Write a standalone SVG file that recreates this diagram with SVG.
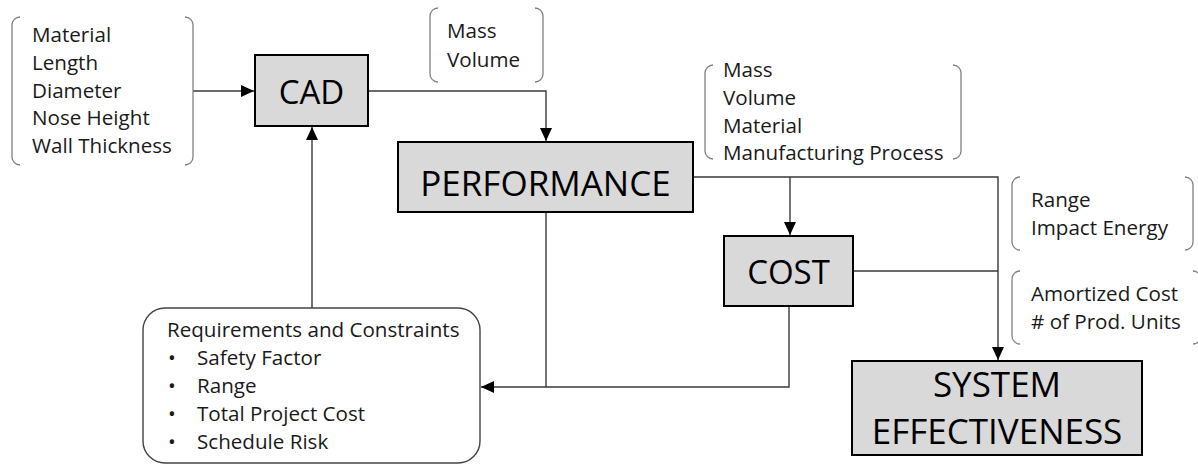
<svg xmlns="http://www.w3.org/2000/svg" width="1198" height="465" viewBox="0 0 1198 465">
<style>
.box{fill:#d9d9d9;stroke:#000;stroke-width:2}
.big{font-family:"Open Sans","Liberation Sans",sans-serif;fill:#000;text-anchor:middle}
.t{font-family:"Open Sans","Liberation Sans",sans-serif;font-size:20.6px;fill:#1a1a1a}
.br{fill:none;stroke:#808080;stroke-width:1.3}
.c{fill:none;stroke:#3a3a3a;stroke-width:1.4}
</style>
<defs>
<marker id="ah" markerUnits="userSpaceOnUse" markerWidth="13" markerHeight="12" refX="13" refY="6" orient="auto">
<path d="M0,0 L13,6 L0,12 Z" fill="#000"/>
</marker>
</defs>
<rect width="1198" height="465" fill="#fff"/>

<g id="connectors">
<path class="c" d="M193,91 H254" marker-end="url(#ah)"/>
<path class="c" d="M368,91 H546 V141" marker-end="url(#ah)"/>
<path class="c" d="M312,308 V127" marker-end="url(#ah)"/>
<path class="c" d="M693,177 H998 V360" marker-end="url(#ah)"/>
<path class="c" d="M790,177 V235" marker-end="url(#ah)"/>
<path class="c" d="M853,271 H998"/>
<path class="c" d="M546,212 V387"/>
<path class="c" d="M789,306 V387 H481" marker-end="url(#ah)"/>
</g>

<g id="inputs">
<path class="br" d="M20,17 A8,8 0 0 0 12,25 V157 A8,8 0 0 0 20,165 M185,17 A8,8 0 0 1 193,25 V157 A8,8 0 0 1 185,165"/>
<text class="t" x="32" y="42">Material</text>
<text class="t" x="32" y="70">Length</text>
<text class="t" x="32" y="98">Diameter</text>
<text class="t" x="32" y="125">Nose Height</text>
<text class="t" x="32" y="153">Wall Thickness</text>
</g>

<g id="cad">
<rect class="box" x="255" y="55" width="113" height="71"/>
<text class="big" x="311.5" y="104" font-size="33">CAD</text>
</g>

<g id="cad-outputs">
<path class="br" d="M438,8 A8,8 0 0 0 430,16 V74 A8,8 0 0 0 438,82 M535,8 A8,8 0 0 1 543,16 V74 A8,8 0 0 1 535,82"/>
<text class="t" x="447" y="38">Mass</text>
<text class="t" x="447" y="67">Volume</text>
</g>

<g id="performance">
<rect class="box" x="398" y="142" width="295" height="70"/>
<text class="big" x="545.5" y="196" font-size="35">PERFORMANCE</text>
</g>

<g id="performance-outputs">
<path class="br" d="M713,65 A8,8 0 0 0 705,73 V151 A8,8 0 0 0 713,159 M953,65 A8,8 0 0 1 961,73 V151 A8,8 0 0 1 953,159"/>
<text class="t" x="723" y="77">Mass</text>
<text class="t" x="723" y="105">Volume</text>
<text class="t" x="723" y="133">Material</text>
<text class="t" x="723" y="160">Manufacturing Process</text>
</g>

<g id="performance-metrics">
<path class="br" d="M1020,177 A8,8 0 0 0 1012,185 V242 A8,8 0 0 0 1020,250 M1185,177 A8,8 0 0 1 1193,185 V242 A8,8 0 0 1 1185,250"/>
<text class="t" x="1031" y="207">Range</text>
<text class="t" x="1031" y="235">Impact Energy</text>
</g>

<g id="cost">
<rect class="box" x="724" y="236" width="129" height="70"/>
<text class="big" x="788.5" y="284" font-size="33">COST</text>
</g>

<g id="cost-metrics">
<path class="br" d="M1020,271 A8,8 0 0 0 1012,279 V336 A8,8 0 0 0 1020,344 M1193,271 A8,8 0 0 1 1201,279 V336 A8,8 0 0 1 1193,344"/>
<text class="t" x="1031" y="301">Amortized Cost</text>
<text class="t" x="1031" y="329"># of Prod. Units</text>
</g>

<g id="system-effectiveness">
<rect class="box" x="852" y="361" width="290" height="94"/>
<text class="big" x="997" y="397" font-size="35">SYSTEM</text>
<text class="big" x="997" y="444" font-size="35">EFFECTIVENESS</text>
</g>

<g id="requirements">
<rect x="143" y="308" width="337" height="155" rx="22" ry="22" fill="#fff" stroke="#444" stroke-width="1.4"/>
<text class="t" x="167" y="337">Requirements and Constraints</text>
<text class="t" x="168" y="365">•</text>
<text class="t" x="197" y="365">Safety Factor</text>
<text class="t" x="168" y="393">•</text>
<text class="t" x="197" y="393">Range</text>
<text class="t" x="168" y="421">•</text>
<text class="t" x="197" y="421">Total Project Cost</text>
<text class="t" x="168" y="449">•</text>
<text class="t" x="197" y="449">Schedule Risk</text>
</g>
</svg>
